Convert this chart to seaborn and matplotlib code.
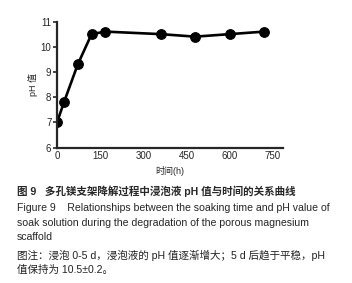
import numpy as np
import pandas as pd
import matplotlib
matplotlib.use("Agg")
import matplotlib.pyplot as plt
import seaborn as sns

# Data
time_h = [0, 24, 72, 120, 168, 360, 480, 600, 720]
ph_value = [7.0, 7.8, 9.3, 10.5, 10.6, 10.5, 10.4, 10.5, 10.6]
x_ticks = [0, 150, 300, 450, 600, 750]
y_ticks = [6, 7, 8, 9, 10, 11]

df = pd.DataFrame({"time": time_h, "ph": ph_value})

sns.set_style("ticks")
plt.rcParams["font.family"] = ["Liberation Sans", "Noto Sans CJK SC", "DejaVu Sans"]

fig = plt.figure(figsize=(3.52, 2.83), dpi=100)
ax = fig.add_axes([0.162, 0.478, 0.642, 0.446])

sns.lineplot(data=df, x="time", y="ph", ax=ax, color="black", linewidth=1.9,
             marker="o", markersize=7, markeredgecolor="black")

ax.set_xlim(0, 785)
ax.set_ylim(6, 11)
ax.set_xticks(x_ticks)
ax.set_yticks(y_ticks)
ax.tick_params(axis="x", length=0, labelsize=7, pad=2)
ax.tick_params(axis="y", length=3, width=1.2, labelsize=7, pad=1)
for s in ["left", "bottom"]:
    ax.spines[s].set_linewidth(1.6)
sns.despine(ax=ax)
ax.set_xlabel("时间(h)", fontsize=6.5, labelpad=4)
ax.set_ylabel("pH 值", fontsize=6.5, labelpad=2)

# caption
fig.text(0.048, 0.325, "图 9   多孔镁支架降解过程中浸泡液 pH 值与时间的关系曲线",
         fontsize=7.6, fontweight="bold", va="center")
fig.text(0.048, 0.265, "Figure 9    Relationships between the soaking time and pH value of",
         fontsize=7.6, va="center")
fig.text(0.048, 0.212, "soak solution during the degradation of the porous magnesium",
         fontsize=7.6, va="center")
fig.text(0.048, 0.162, "scaffold", fontsize=7.6, va="center")
fig.text(0.048, 0.099, "图注：浸泡 0-5 d，浸泡液的 pH 值逐渐增大；5 d 后趋于平稳，pH",
         fontsize=7.6, va="center", color="#222222")
fig.text(0.048, 0.046, "值保持为 10.5±0.2。", fontsize=7.6, va="center", color="#222222")

fig.savefig("out.png", dpi=100)
